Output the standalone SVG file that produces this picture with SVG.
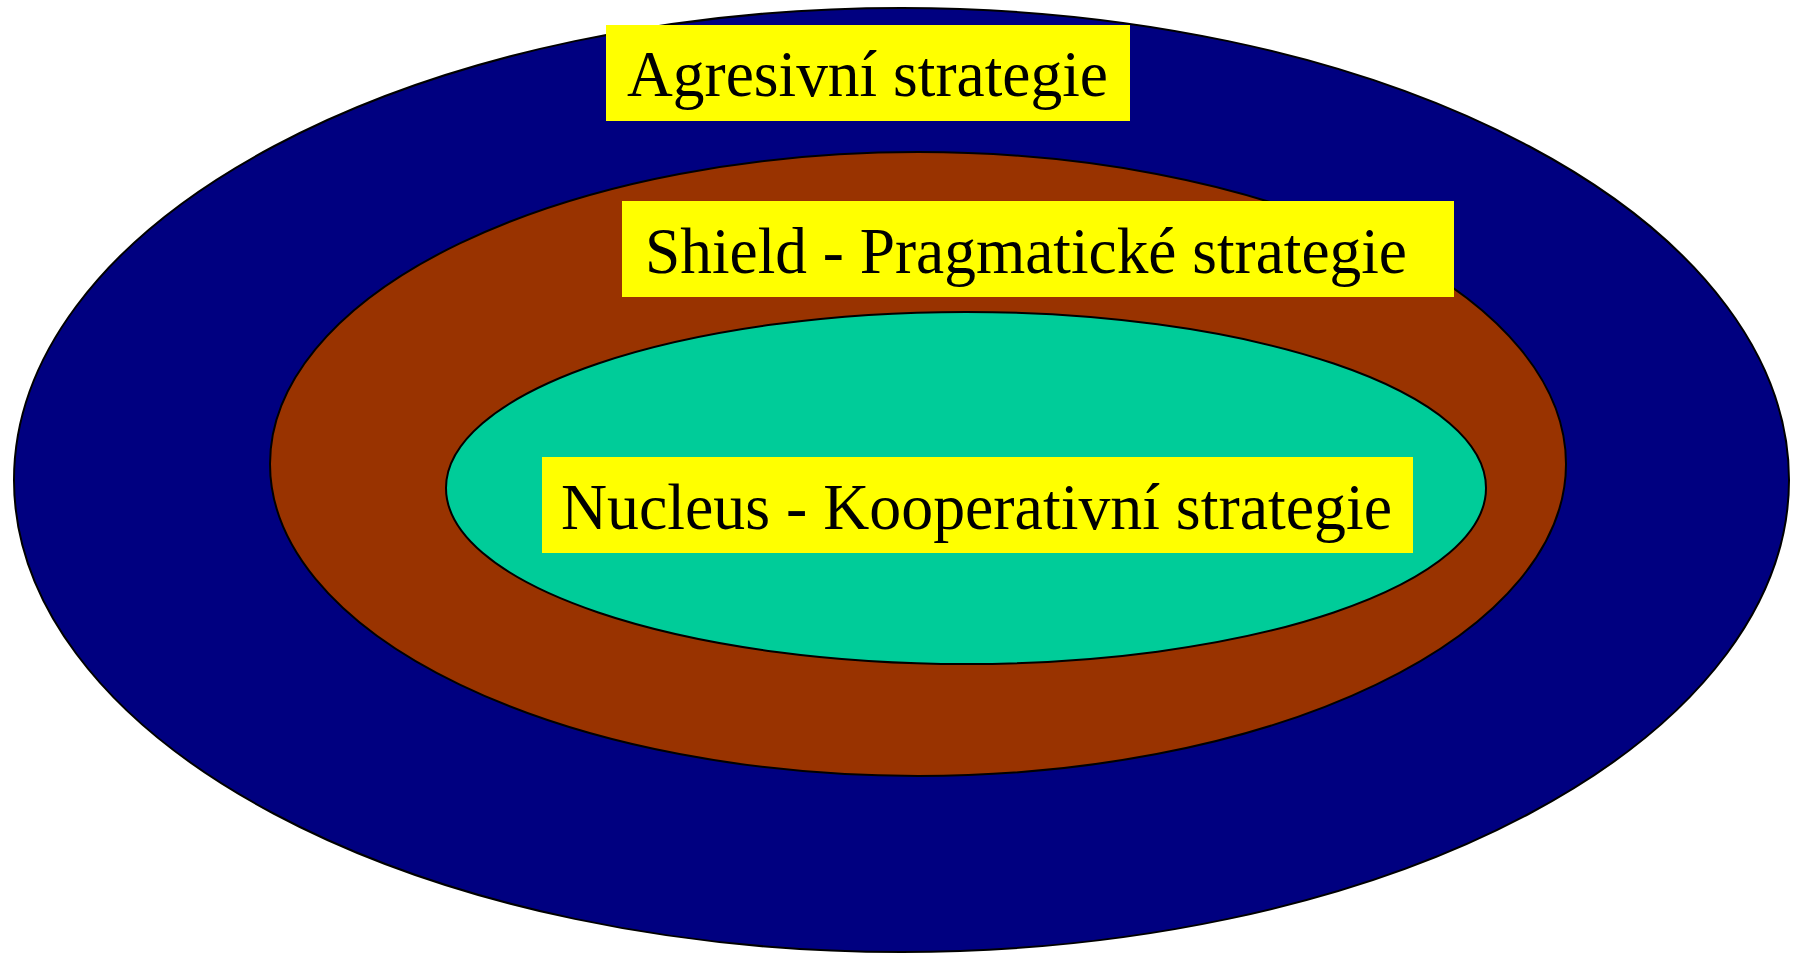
<svg xmlns="http://www.w3.org/2000/svg" width="1798" height="953" viewBox="0 0 1798 953">
<style>
.ring{stroke:#000;stroke-width:2}
.box{fill:#FFFF00}
.lbl{font-family:"Liberation Serif","Times New Roman",serif;font-size:66px;fill:#000}
</style>
<rect width="1798" height="953" fill="#fff"/>
<g id="outer">
<ellipse class="ring" cx="901.5" cy="480" rx="887.5" ry="472" fill="#000080"/>
</g>
<g id="middle">
<ellipse class="ring" cx="918" cy="464" rx="648" ry="312" fill="#993300"/>
</g>
<g id="inner">
<ellipse class="ring" cx="966" cy="488" rx="520" ry="176" fill="#00CC99"/>
</g>
<g id="label-agresivni">
<rect class="box" x="606" y="25" width="524" height="96"/>
<text class="lbl" x="627" y="96" textLength="481" lengthAdjust="spacingAndGlyphs">Agresivní strategie</text>
</g>
<g id="label-shield">
<rect class="box" x="622" y="201" width="832" height="96"/>
<text class="lbl" x="645" y="273" textLength="762" lengthAdjust="spacingAndGlyphs">Shield - Pragmatické strategie</text>
</g>
<g id="label-nucleus">
<rect class="box" x="542" y="457" width="871" height="96"/>
<text class="lbl" x="561" y="529" textLength="831" lengthAdjust="spacingAndGlyphs">Nucleus - Kooperativní strategie</text>
</g>
<g id="connectors"/>
</svg>
